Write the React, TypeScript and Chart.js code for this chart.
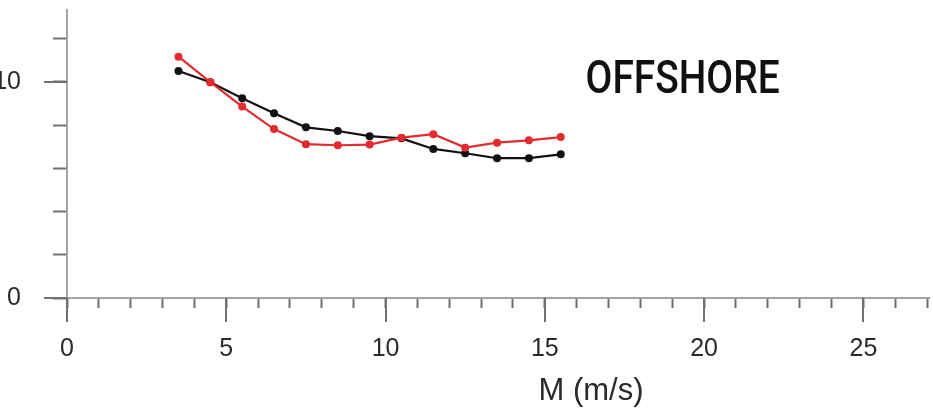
import React, { useEffect, useRef } from "react";
import { Chart, registerables } from "chart.js";

Chart.register(...registerables);

// ---- data ----
const windSpeeds = [3.5, 4.5, 5.5, 6.5, 7.5, 8.5, 9.5, 10.5, 11.5, 12.5, 13.5, 14.5, 15.5];
const blackSeries = [10.51, 9.99, 9.25, 8.55, 7.9, 7.73, 7.49, 7.39, 6.9, 6.7, 6.47, 6.47, 6.65];
const redSeries = [11.17, 9.99, 8.86, 7.82, 7.12, 7.07, 7.1, 7.42, 7.58, 6.96, 7.19, 7.3, 7.45];
const xMajorTicks = [0, 5, 10, 15, 20, 25];
const yLabeledTicks = [0, 10];
const xAxisTitle = "M (m/s)";
const panelLabel = "OFFSHORE";

const AXIS_COLOR = "#a3a3a3";
const TICK_COLOR = "#707070";
const LABEL_COLOR = "#2a2a2a";
const LABEL_FONT = "'Liberation Sans', Arial, Helvetica, sans-serif";

const zeroPadding = (s: any) => {
  s.paddingLeft = 0;
  s.paddingRight = 0;
  s.paddingTop = 0;
  s.paddingBottom = 0;
};

const extrasPlugin = {
  id: "panelExtras",
  afterDraw(chart: any) {
    const { ctx, chartArea, scales } = chart;
    const xs = scales.x;
    const ys = scales.y;
    ctx.save();
    // longer major tick marks
    ctx.strokeStyle = TICK_COLOR;
    ctx.lineWidth = 2;
    ctx.beginPath();
    for (const v of xMajorTicks) {
      const px = Math.round(xs.getPixelForValue(v));
      ctx.moveTo(px, chartArea.bottom);
      ctx.lineTo(px, chartArea.bottom + 24);
    }
    for (const v of yLabeledTicks) {
      const py = Math.round(ys.getPixelForValue(v));
      ctx.moveTo(chartArea.left - 23, py);
      ctx.lineTo(chartArea.left, py);
    }
    ctx.stroke();

    // axis title
    ctx.fillStyle = LABEL_COLOR;
    ctx.font = "31px " + LABEL_FONT;
    ctx.textAlign = "center";
    ctx.textBaseline = "alphabetic";
    ctx.fillText(xAxisTitle, xs.getPixelForValue(16.45), chartArea.bottom + 102);

    // panel label
    ctx.font = "500 46px Roboto, 'Noto Sans', sans-serif";
    const w = ctx.measureText(panelLabel).width;
    ctx.translate(xs.getPixelForValue(16.28), ys.getPixelForValue(9.49));
    ctx.scale(194 / w, 1);
    ctx.textAlign = "left";
    ctx.fillStyle = "#111111";
    ctx.fillText(panelLabel, 0, 0);
    ctx.restore();
  },
};

export default function App() {
  const canvasRef = useRef<HTMLCanvasElement | null>(null);

  useEffect(() => {
    if (!canvasRef.current) return;
    const chart = new Chart(canvasRef.current, {
      type: "line",
      data: {
        datasets: [
          {
            label: "red",
            data: windSpeeds.map((x, i) => ({ x, y: redSeries[i] })),
            borderColor: "#e52a2e",
            backgroundColor: "#e52a2e",
            pointBackgroundColor: "#e52a2e",
            borderWidth: 2.2,
            pointRadius: 4,
            pointBorderWidth: 0,
            tension: 0,
          },
          {
            label: "black",
            data: windSpeeds.map((x, i) => ({ x, y: blackSeries[i] })),
            borderColor: "#111111",
            backgroundColor: "#111111",
            pointBackgroundColor: "#111111",
            borderWidth: 2.2,
            pointRadius: 4,
            pointBorderWidth: 0,
            tension: 0,
          },
        ],
      },
      options: {
        responsive: false,
        animation: false,
        layout: { padding: { top: 10, right: 0, left: 0, bottom: 0 } },
        plugins: { legend: { display: false }, tooltip: { enabled: false } },
        scales: {
          x: {
            type: "linear",
            position: "bottom",
            min: 0,
            max: 27.06,
            afterFit: (s: any) => {
              s.height = 114;
              zeroPadding(s);
            },
            border: { display: true, color: AXIS_COLOR, width: 2 },
            grid: { drawOnChartArea: false, drawTicks: true, tickLength: 10, color: TICK_COLOR, tickWidth: 2 },
            ticks: {
              stepSize: 1,
              includeBounds: false,
              autoSkip: false,
              maxRotation: 0,
              minRotation: 0,
              padding: 26,
              color: LABEL_COLOR,
              font: { size: 25, family: LABEL_FONT },
              callback: (v: any) => (xMajorTicks.includes(Number(v)) ? String(v) : ""),
            },
          },
          y: {
            type: "linear",
            position: "left",
            min: 0,
            max: 13.33,
            afterFit: (s: any) => {
              s.width = 67;
              zeroPadding(s);
            },
            border: { display: true, color: AXIS_COLOR, width: 2 },
            grid: { drawOnChartArea: false, drawTicks: true, tickLength: 14, color: TICK_COLOR, tickWidth: 2 },
            ticks: {
              stepSize: 2,
              includeBounds: false,
              autoSkip: false,
              padding: 32,
              color: LABEL_COLOR,
              font: { size: 25, family: LABEL_FONT },
              callback: (v: any) => (yLabeledTicks.includes(Number(v)) ? String(v) : ""),
            },
          },
        },
      },
      plugins: [extrasPlugin],
    });
    return () => chart.destroy();
  }, []);

  return (
    <div style={{ position: "absolute", left: 0, top: 0, width: 933, height: 412, background: "#fff" }}>
      <canvas ref={canvasRef} width={933} height={412} />
    </div>
  );
}
